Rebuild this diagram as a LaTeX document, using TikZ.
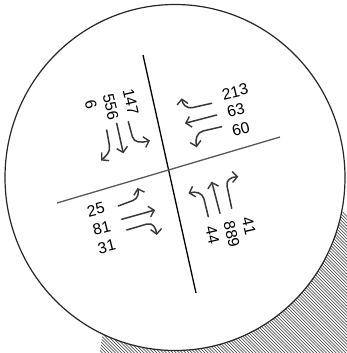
\documentclass[tikz,border=0pt]{standalone}
\usepackage{fontspec}
\setmainfont{Liberation Sans}
\usetikzlibrary{arrows.meta}
\begin{document}
\begin{tikzpicture}[x=1pt,y=-1pt,
  lbl/.style={font=\fontsize{15.8}{18}\selectfont, inner sep=0pt, text=black},
  arr/.style={draw=black!78, line width=1.5pt, line cap=round,
    -{Straight Barb[length=5pt,width=11pt,line width=1.4pt]}},
  hatch/.style={draw=black!80, line width=0.5pt}]
\useasboundingbox (0,0) rectangle (347,353);
% shadow
\begin{scope}
  \clip (0,0) rectangle (347,353);
  \clip (272,370) circle [radius=173];
  \foreach \i in {0,...,245} \draw[hatch] ({-420+3.2*\i},0) -- ++(430,430);
\end{scope}
% disc
\fill[white] (175,177.5) ellipse [x radius=170, y radius=173];
\draw[black!85, line width=1.2pt] (175,177.5) ellipse [x radius=170, y radius=173];
% road lines
\coordinate (vt) at (143,55);
\coordinate (vb) at (196,293);
\coordinate (hl) at (57,203);
\coordinate (hr) at (280,137);
\draw[black, line width=1.3pt] (vt) -- (vb);
\draw[black!65, line width=1.3pt] (hl) -- (hr);
% top-left (southbound)
\node[lbl, rotate=-77] (tl1) at (130.8,101.7) {147};
\node[lbl, rotate=-77] (tl2) at (110.8,106.7) {556};
\node[lbl, rotate=-77] (tl3) at (90.8,104.2) {6};
\draw[arr] (128.3,121.7) -- (132.3,136.5) .. controls (134,143) and (141,143) .. (150,140.5);
\draw[arr] (116.7,123.3) -- (123.3,153.3);
\draw[arr] (106.7,130) -- (109.5,146) .. controls (110.5,152) and (106,156) .. (101,160.5);
% top-right (westbound)
\node[lbl, rotate=14] (tr1) at (235,91.7) {213};
\node[lbl, rotate=14] (tr2) at (235.8,110.3) {63};
\node[lbl, rotate=14] (tr3) at (240.8,128.8) {60};
\draw[arr] (211.7,103.3) -- (193,107.5) .. controls (186,109) and (182.5,104) .. (181.7,98.3);
\draw[arr] (216.7,115) -- (185,123.3);
\draw[arr] (221.7,126.7) -- (203,131) .. controls (197,132.5) and (195,139) .. (196.7,147.3);
% bottom-left (eastbound)
\node[lbl, rotate=14] (bl1) at (95.8,209.7) {25};
\node[lbl, rotate=14] (bl2) at (101.7,228.3) {81};
\node[lbl, rotate=14] (bl3) at (106.7,246.7) {31};
\draw[arr] (118.3,206) -- (133,200.5) .. controls (138,198.5) and (139,193) .. (137.5,188);
\draw[arr] (121.7,219.3) -- (155,210);
\draw[arr] (126.7,230) -- (147,224) .. controls (153,222.5) and (156,228) .. (156.7,235);
% bottom-right (northbound)
\node[lbl, rotate=-77] (br1) at (249,225.8) {41};
\node[lbl, rotate=-77] (br2) at (231.7,234.2) {889};
\node[lbl, rotate=-77] (br3) at (212.5,235) {44};
\draw[arr] (208.3,216.7) -- (204,199) .. controls (202.5,193) and (196,191) .. (188.5,193.3);
\draw[arr] (220,213.3) -- (211.7,181.7);
\draw[arr] (231.7,208.3) -- (227,186) .. controls (226,180) and (231,177) .. (238.3,176.7);
\end{tikzpicture}
\end{document}
